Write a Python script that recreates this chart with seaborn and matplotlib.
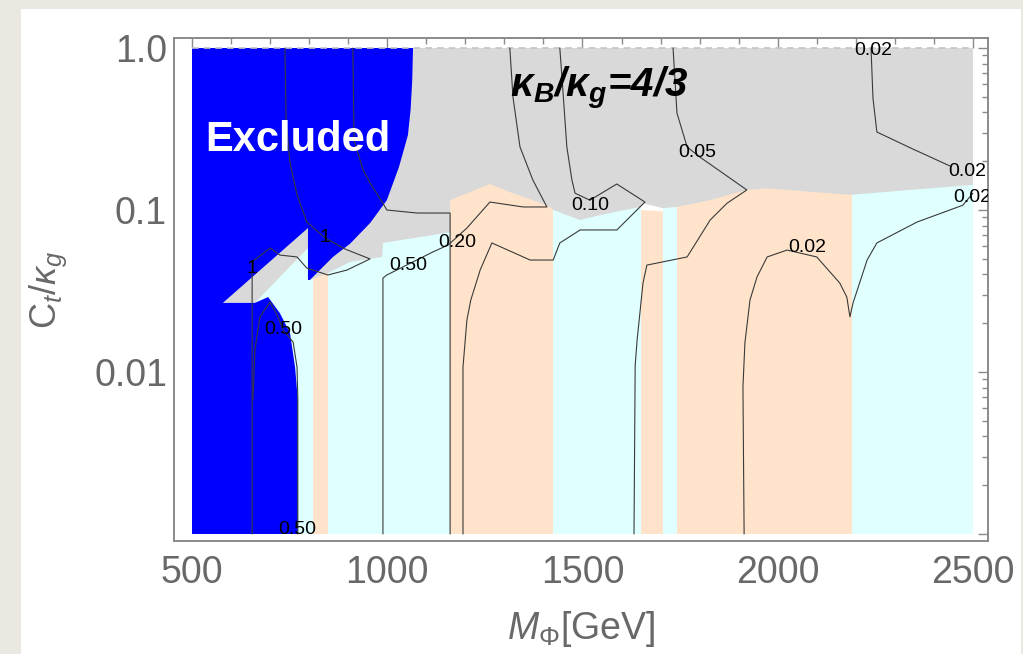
import numpy as np
import pandas as pd
import matplotlib
matplotlib.use("Agg")
import matplotlib.pyplot as plt
import seaborn as sns
from matplotlib.patches import Rectangle
from matplotlib.ticker import FixedLocator, MultipleLocator, NullFormatter, LogLocator

# ---------------- data ----------------
x_range = [500, 2500]
y_range = [0.001, 1.0]

# vertical colour bands below the grey region
peach_lo = [810, 1161, 1650, 1742]
peach_hi = [849, 1425, 1706, 2190]

# grey region (upper part) : lower boundary then top edge
gray_x = [2500, 2185, 1973, 1921, 1827, 1742, 1706, 1655, 1647, 1545, 1494, 1425, 1409,
          1314, 1263, 1161, 1161, 1117, 989, 987, 905, 848, 802, 797, 797, 661, 579, 500,
          500, 2500]
gray_y = [0.143, 0.124, 0.136, 0.133, 0.115, 0.1044, 0.1028, 0.110, 0.1044, 0.093, 0.0867,
          0.100, 0.107, 0.129, 0.1447, 0.115, 0.0731, 0.0701, 0.0626, 0.0513, 0.0478, 0.0408,
          0.037, 0.037, 0.0583, 0.0267, 0.0267, 0.0267, 1.0, 1.0]

# small white gap between the grey region and the bands near 1650-1706 GeV
gap_x = [1650, 1655, 1706, 1706, 1650]
gap_y = [0.1044, 0.110, 0.1028, 0.098, 0.100]

# excluded (blue) region
blue_x = [500, 1066, 1064, 1060, 1053, 1030, 999, 956, 905, 861, 802, 797, 797, 579, 661,
          695, 725, 751, 764, 771, 771, 500]
blue_y = [1.0, 1.0, 0.634, 0.42, 0.29, 0.184, 0.115, 0.083, 0.062, 0.0513, 0.037, 0.037,
          0.0774, 0.0267, 0.0267, 0.029, 0.0231, 0.0174, 0.0107, 0.0067, 0.001, 0.001]

# contour lines
c1_x = [738, 741, 751, 769, 794, 841, 892, 956, 897, 848, 794, 769, 725, 700, 654, 654]
c1_y = [1.0, 0.36, 0.195, 0.124, 0.0843, 0.0672, 0.0574, 0.0499, 0.0426, 0.0397, 0.0438,
        0.0513, 0.0527, 0.0583, 0.0478, 0.001]
c2_x = [912, 915, 938, 956, 989, 999, 1076, 1161, 1161]
c2_y = [1.0, 0.27, 0.177, 0.147, 0.110, 0.100, 0.0958, 0.0958, 0.001]
c3_x = [989, 989, 999, 1117, 1156, 1204, 1263, 1348, 1409, 1373, 1340, 1322, 1314]
c3_y = [0.001, 0.038, 0.0397, 0.0551, 0.0608, 0.0774, 0.112, 0.1044, 0.1044, 0.153, 0.245,
        0.498, 1.0]
c4_x = [1442, 1448, 1460, 1473, 1481, 1519, 1588, 1660, 1588, 1494, 1442, 1425, 1366, 1268,
        1238, 1214, 1204, 1194, 1194]
c4_y = [1.0, 0.634, 0.245, 0.153, 0.127, 0.115, 0.1447, 0.112, 0.0753, 0.0753, 0.0626,
        0.0491, 0.0491, 0.0626, 0.0426, 0.0278, 0.0209, 0.0107, 0.001]
c5_x = [1732, 1742, 1768, 1801, 1921, 1870, 1827, 1768, 1665, 1655, 1640, 1635, 1632]
c5_y = [1.0, 0.397, 0.245, 0.212, 0.133, 0.110, 0.0867, 0.0513, 0.0457, 0.0354, 0.0158,
        0.0110, 0.001]
c6_x = [2239, 2244, 2254, 2346, 2441]
c6_y = [1.0, 0.491, 0.303, 0.238, 0.187]
c7_x = [2500, 2474, 2357, 2254, 2229, 2193, 2185, 2177, 2159, 2100, 2024, 1973, 1947, 1929,
        1916, 1911, 1914]
c7_y = [0.127, 0.107, 0.0843, 0.0626, 0.0491, 0.0267, 0.0219, 0.029, 0.0354, 0.0513, 0.0566,
        0.0513, 0.0386, 0.0278, 0.0151, 0.00807, 0.001]
c8_x = [656, 661, 674, 700, 718, 733, 759, 769, 771, 771]
c8_y = [0.00671, 0.0137, 0.0219, 0.027, 0.0225, 0.0182, 0.0153, 0.0107, 0.00671, 0.001]

label_text = ["1", "1", "0.50", "0.50", "0.50", "0.20", "0.10", "0.05", "0.02", "0.02",
              "0.02", "0.02"]
label_x = [654, 841, 733, 769, 1053, 1179, 1519, 1793, 2244, 2485, 2075, 2497]
label_y = [0.0438, 0.0672, 0.0182, 0.00107, 0.0457, 0.0634, 0.107, 0.228, 0.972, 0.172,
           0.0583, 0.119]

x_ticks = [500, 1000, 1500, 2000, 2500]
y_ticks = [0.001, 0.01, 0.1, 1.0]
y_tick_labels = ["", "0.01", "0.1", "1.0"]

# ---------------- style ----------------
sns.set_theme(style="white")
plt.rcParams["font.family"] = ["Liberation Sans", "DejaVu Sans"]
plt.rcParams["mathtext.fontset"] = "custom"
plt.rcParams["mathtext.rm"] = "Liberation Sans"
plt.rcParams["mathtext.it"] = "Liberation Sans:italic"
plt.rcParams["mathtext.bf"] = "Liberation Sans:bold:italic"

BLUE = "#0000ff"
GRAY = "#d9d9d9"
CYAN = "#e0ffff"
PEACH = "#ffe4cb"
LINE = "#3a3a3a"
AXC = "#8a8a8a"
TXT = "#686868"

W, H = 1023, 654
fig = plt.figure(figsize=(W / 100, H / 100), dpi=100)
fig.patch.set_facecolor("#ebe8e1")
panel = Rectangle((21 / W, 0), 1000 / W, (H - 9) / H, transform=fig.transFigure,
                  facecolor="white", edgecolor="none", zorder=-5)
fig.add_artist(panel)

ax = fig.add_axes([174 / W, 1 - 541 / H, (988 - 174) / W, (541 - 38) / H])
ax.set_zorder(2)
ax.set_facecolor("white")
ax.set_yscale("log")
ax.set_xlim(453.9, 2538.6)
ax.set_ylim(0.000905, 1.153)

# bands
ax.fill_between(x_range, [y_range[0]] * 2, [y_range[1]] * 2, color=CYAN, lw=0, zorder=1)
for lo, hi in zip(peach_lo, peach_hi):
    ax.fill_between([lo, hi], [y_range[0]] * 2, [y_range[1]] * 2, color=PEACH, lw=0, zorder=1)
ax.fill(gap_x, gap_y, color="white", lw=0, zorder=1.5)
ax.fill(gray_x, gray_y, color=GRAY, lw=0, zorder=2)
ax.fill(blue_x, blue_y, color=BLUE, lw=0, zorder=3)

# top frame of plot range
sns.lineplot(x=x_range, y=[y_range[1]] * 2, color="#c4c4c4", lw=1.2, ls=(0, (4, 3)),
             ax=ax, zorder=4)

for cx, cy in [(c1_x, c1_y), (c2_x, c2_y), (c3_x, c3_y), (c4_x, c4_y), (c5_x, c5_y),
               (c6_x, c6_y), (c7_x, c7_y), (c8_x, c8_y)]:
    sns.lineplot(x=cx, y=cy, sort=False, estimator=None, color=LINE, lw=0.8, ax=ax, zorder=5)

for t, lx, ly in zip(label_text, label_x, label_y):
    ax.text(lx, ly, t, fontsize=14, color="black", ha="center", va="center", zorder=6,
            clip_on=True)

ax.text(771, 0.27, "Excluded", color="white", fontsize=30, fontweight="bold",
        ha="center", va="center", zorder=7)
ax.text(1542, 0.566, r"$\mathbf{\kappa_B/\kappa_g}$=4/3", color="black", fontsize=29,
        fontweight="bold", fontstyle="italic", ha="center", va="center", zorder=7)

# axes styling
ax.set_xticks(x_ticks)
ax.set_xticklabels([str(v) for v in x_ticks])
ax.xaxis.set_minor_locator(MultipleLocator(100))
ax.yaxis.set_major_locator(FixedLocator(y_ticks))
ax.set_yticklabels(y_tick_labels)
ax.yaxis.set_minor_locator(LogLocator(base=10, subs=np.arange(2, 10), numticks=20))
ax.yaxis.set_minor_formatter(NullFormatter())
ax.tick_params(which="both", direction="in", top=True, right=True, color=AXC,
               labelcolor=TXT, labelsize=27, width=1.0)
ax.tick_params(which="major", length=7)
ax.tick_params(which="minor", length=4.5)
ax.tick_params(axis="x", which="major", pad=10)
ax.tick_params(axis="y", which="major", pad=5)
for s in ax.spines.values():
    s.set_color(AXC)
    s.set_linewidth(1.4)
ax.set_xlabel("")
ax.set_ylabel("")

fig.text(581 / W, 1 - 629 / H, r"$M_\Phi$[GeV]", fontsize=27, color=TXT, ha="center",
         va="center")
fig.text(48 / W, 1 - 290 / H, r"C$_t$/$\kappa_g$", fontsize=26, color=TXT, ha="center",
         va="center", rotation=90)

fig.savefig("out.png", dpi=100, facecolor=fig.get_facecolor())
